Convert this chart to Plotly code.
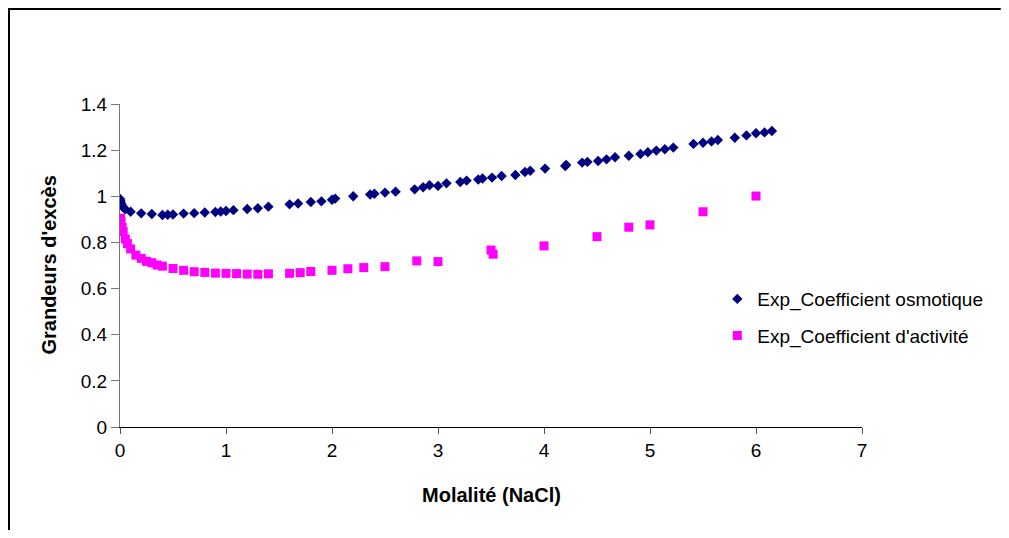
import plotly.graph_objects as go

# Osmotic coefficient (experimental)
osm_x = [0.001, 0.005, 0.01, 0.02, 0.03, 0.05, 0.1,
         0.2, 0.3, 0.4, 0.45, 0.5, 0.6, 0.7, 0.8, 0.9, 0.95,
         1.0, 1.07, 1.2, 1.3, 1.4, 1.6, 1.68, 1.8, 1.9, 2.0,
         2.03, 2.2, 2.36, 2.4, 2.5, 2.6, 2.78, 2.86, 2.92, 3.0,
         3.08, 3.21, 3.27, 3.38, 3.42, 3.51, 3.6, 3.73, 3.82, 3.87,
         4.01, 4.2, 4.21, 4.36, 4.41, 4.51, 4.59, 4.67, 4.8, 4.91,
         4.98, 5.06, 5.14, 5.22, 5.41, 5.5, 5.58, 5.64, 5.8, 5.91,
         6.0, 6.08, 6.15]
osm_y = [0.988, 0.98, 0.97, 0.96, 0.952, 0.944, 0.933,
         0.926, 0.923, 0.919, 0.920, 0.921, 0.925, 0.927, 0.930, 0.932, 0.934,
         0.936, 0.940, 0.945, 0.948, 0.955, 0.965, 0.969, 0.975, 0.978, 0.985,
         0.990, 1.000, 1.008, 1.011, 1.016, 1.020, 1.030, 1.039, 1.048, 1.045,
         1.056, 1.062, 1.068, 1.073, 1.077, 1.081, 1.088, 1.092, 1.105, 1.111,
         1.120, 1.131, 1.136, 1.146, 1.149, 1.153, 1.160, 1.169, 1.176, 1.183,
         1.191, 1.198, 1.204, 1.211, 1.227, 1.232, 1.238, 1.244, 1.254, 1.264,
         1.273, 1.277, 1.283]

# Activity coefficient (experimental)
act_x = [0.005, 0.01, 0.02, 0.03, 0.05, 0.07, 0.1, 0.15, 0.2, 0.25,
         0.3, 0.35, 0.4, 0.5, 0.6, 0.7, 0.8, 0.9, 1.0, 1.1,
         1.2, 1.3, 1.4, 1.6, 1.7, 1.8, 2.0, 2.15, 2.3, 2.5,
         2.8, 3.0, 3.5, 3.52, 4.0, 4.5, 4.8, 5.0, 5.5, 6.0]
act_y = [0.905, 0.89, 0.865, 0.847, 0.815, 0.795, 0.772, 0.745, 0.731, 0.718,
         0.712, 0.702, 0.697, 0.687, 0.679, 0.673, 0.670, 0.667, 0.666, 0.665,
         0.663, 0.662, 0.664, 0.666, 0.669, 0.674, 0.679, 0.686, 0.691, 0.695,
         0.72, 0.717, 0.767, 0.749, 0.785, 0.825, 0.866, 0.876, 0.933, 1.001]

x_ticks = [0, 1, 2, 3, 4, 5, 6, 7]
y_ticks = [0, 0.2, 0.4, 0.6, 0.8, 1.0, 1.2, 1.4]
y_labels = ["0", "0.2", "0.4", "0.6", "0.8", "1", "1.2", "1.4"]

FONT = "Liberation Sans, Arial, sans-serif"

fig = go.Figure()
fig.add_trace(go.Scatter(
    x=osm_x, y=osm_y, mode="markers", name="Exp_Coefficient osmotique",
    legendgroup="a",
    marker=dict(symbol="diamond", size=8, color="#000080", line=dict(width=0))))
fig.add_trace(go.Scatter(
    x=act_x, y=act_y, mode="markers", name="Exp_Coefficient d'activité",
    legendgroup="b",
    marker=dict(symbol="square", size=9, color="#FF00FF", line=dict(width=0))))

fig.update_layout(
    width=993, height=522,
    margin=dict(l=112, r=139, t=96, b=103),
    paper_bgcolor="white", plot_bgcolor="white",
    font=dict(family=FONT, size=19, color="black"),
    showlegend=True,
    legend=dict(x=0.805, y=0.455, xanchor="left", yanchor="top",
                font=dict(family=FONT, size=19, color="black"),
                tracegroupgap=9, traceorder="grouped",
                bgcolor="rgba(0,0,0,0)", borderwidth=0),
    xaxis=dict(range=[0, 7], tickvals=x_ticks, showline=True, linecolor="black",
               linewidth=1, ticks="outside", ticklen=6, tickcolor="#555",
               showgrid=False, zeroline=False, tickfont=dict(size=19)),
    yaxis=dict(range=[0, 1.4], tickvals=y_ticks, ticktext=y_labels, showline=True,
               linecolor="#777", linewidth=1, ticks="outside", ticklen=8,
               tickcolor="#777", showgrid=False, zeroline=False,
               tickfont=dict(size=19)),
    annotations=[
        dict(text="<b>Molalité (NaCl)</b>", xref="paper", yref="paper",
             x=0.5, y=-0.2105, xanchor="center", yanchor="middle",
             showarrow=False, font=dict(family=FONT, size=20, color="black")),
        dict(text="<b>Grandeurs d'excès</b>", xref="paper", yref="paper",
             x=-0.097, y=0.5, xanchor="center", yanchor="middle", textangle=-90,
             showarrow=False, font=dict(family=FONT, size=20, color="black")),
    ],
    shapes=[
        dict(type="path", xref="paper", yref="paper",
             path="M -0.1496,-0.35 L -0.1496,1.2942 L 1.187,1.2942",
             line=dict(color="black", width=2)),
    ],
)

fig.write_html("out.html")
